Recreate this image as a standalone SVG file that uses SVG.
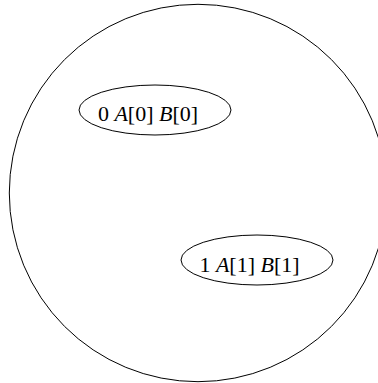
<svg xmlns="http://www.w3.org/2000/svg" width="378" height="383" viewBox="0 0 378 383">
<style>
.shape{fill:none;stroke:#000;stroke-width:1}
.lbl{font-family:"Liberation Serif","Times New Roman",serif;font-size:22px;fill:#000;text-anchor:middle}
.it{font-style:italic}
</style>
<rect width="378" height="383" fill="#fff"/>
<g id="cluster">
<ellipse class="shape" cx="198" cy="193" rx="188.7" ry="188.7"/>
</g>
<g id="node0">
<ellipse class="shape" cx="155" cy="110" rx="76" ry="25"/>
<text class="lbl" x="148" y="121">0 <tspan class="it">A</tspan>[0] <tspan class="it">B</tspan>[0]</text>
</g>
<g id="node1">
<ellipse class="shape" cx="257" cy="260" rx="76" ry="25"/>
<text class="lbl" x="249.5" y="271.5">1 <tspan class="it">A</tspan>[1] <tspan class="it">B</tspan>[1]</text>
</g>
<g id="connectors"></g>
</svg>
